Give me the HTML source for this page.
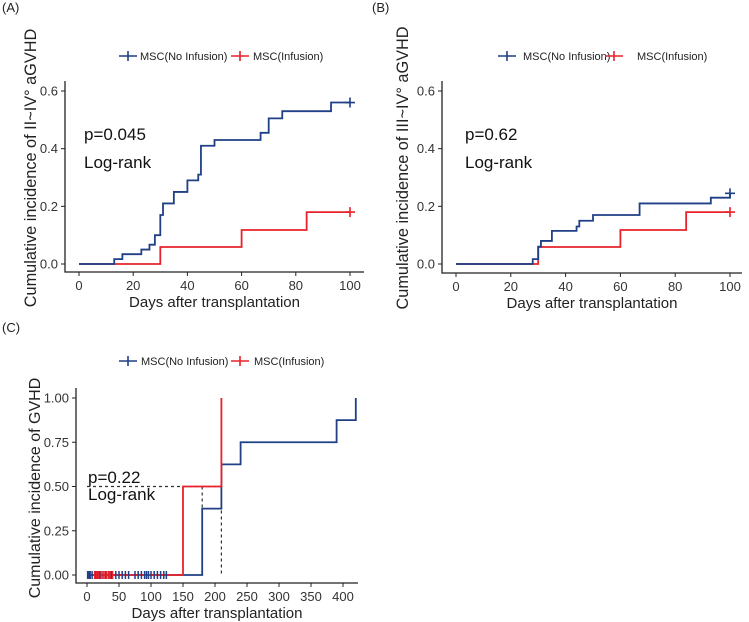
<!DOCTYPE html>
<html><head><meta charset="utf-8"><style>
body{margin:0;background:#fff;}
svg{display:block;font-family:"Liberation Sans",Arial,sans-serif;}
</style></head><body>
<svg id="fig" width="749" height="622" viewBox="0 0 749 622"></svg>
<script>
// Panel A data
const aBlueDays=[13,16,23,26,28,30,31,35,40,44,45,50,67,70,75,93];
const aBlueVals=[0.017,0.034,0.05,0.067,0.1,0.17,0.21,0.25,0.29,0.31,0.41,0.43,0.455,0.505,0.53,0.56];
const aRedDays=[30,60,84];
const aRedVals=[0.059,0.118,0.18];
// Panel B data
const bBlueDays=[28,30,31,35,44,45,50,67,93,100];
const bBlueVals=[0.017,0.06,0.08,0.115,0.13,0.15,0.17,0.21,0.23,0.245];
const bRedDays=[30,60,84];
const bRedVals=[0.059,0.118,0.18];
// Panel C data
const cBlueDays=[180,210,240,390,420];
const cBlueVals=[0.375,0.625,0.75,0.875,1.0];
const cRedDays=[150,210];
const cRedVals=[0.5,1.0];
const cBlueCensor=[1,3,5,8,14,17,20,25,30,35,38,45,50,55,60,65,75,80,85,90,93,96,100,105,110,115,120,124];
const cRedCensor=[12,15,18,22,25,28,31,34,36,40];
const abTicksX=[0,20,40,60,80,100];
const abTicksY=[0.0,0.2,0.4,0.6];
const cTicksX=[0,50,100,150,200,250,300,350,400];
const cTicksY=[0.00,0.25,0.50,0.75,1.00];

const NS="http://www.w3.org/2000/svg";
const svg=document.getElementById('fig');
function el(t,a,p){const e=document.createElementNS(NS,t);for(const k in a)e.setAttribute(k,a[k]);(p||svg).appendChild(e);return e;}
const BLUE="#1f3f86",RED="#e8222a";

function panel(o){
  const g=el('g',{});
  
  
  const sx=v=>o.x0+(v-o.xmin)/(o.xmax-o.xmin)*(o.x1-o.x0);
  const sy=v=>o.y0+(v-o.ymin)/(o.ymax-o.ymin)*(o.y1-o.y0);
  let t=el('text',{x:o.labX,y:o.labY,'font-size':13,fill:'#222'},g);t.textContent=o.label;
  
  let ax=el('path',{d:`M${o.axL},${o.axT}V${o.axB}H${o.axR}`,stroke:'#222','stroke-width':1.3,fill:'none'},g);
  
  o.ticksY.forEach(v=>{
    el('line',{x1:o.axL-4,x2:o.axL,y1:sy(v),y2:sy(v),stroke:'#222'},g);
    const tt=el('text',{x:o.axL-7,y:sy(v)+4.5,'font-size':13,'text-anchor':'end',fill:'#333'},g);
    tt.textContent=v.toFixed(o.yDec);
    
  });
  o.ticksX.forEach(v=>{
    el('line',{x1:sx(v),x2:sx(v),y1:o.axB,y2:o.axB+4,stroke:'#222'},g);
    const tt=el('text',{x:sx(v),y:o.axB+18,'font-size':13,'text-anchor':'middle',fill:'#333'},g);
    tt.textContent=v;
    
  });
  t=el('text',{x:(o.axL+o.axR)/2,y:o.axB+35,'font-size':15,'text-anchor':'middle',fill:'#222'},g);
  t.textContent='Days after transplantation';
  const cy=o.ytY;
  t=el('text',{x:0,y:0,'font-size':o.ytSize,'text-anchor':'middle',fill:'#222',transform:`translate(${o.ytX},${cy}) rotate(-90)`},g);
  t.textContent=o.ytitle;
  const lg=el('g',{},g);
  [[o.lg[0],BLUE,'MSC(No Infusion)'],[o.lg[2],RED,'MSC(Infusion)']].forEach((a,i)=>{
    el('line',{x1:a[0]-9,x2:a[0]+9,y1:o.lgY,y2:o.lgY,stroke:a[1],'stroke-width':1.6},lg);
    el('line',{x1:a[0],x2:a[0],y1:o.lgY-5,y2:o.lgY+5,stroke:a[1],'stroke-width':1.6},lg);
    const tt=el('text',{x:i==0?o.lg[1]:o.lg[3],y:o.lgY+4,'font-size':11,fill:'#222'},lg);tt.textContent=a[2];
    
  });
  t=el('text',{x:o.pX,y:o.pY,'font-size':17,fill:'#111'},g);t.textContent=o.p;
  
  t=el('text',{x:o.pX,y:o.pY+o.pGap,'font-size':17,fill:'#111'},g);t.textContent='Log-rank';
  
  return {g,sx,sy};
}
function step(P,days,vals,end,color,name,endCensor){
  let d=`M${P.sx(0)},${P.sy(0)}`;let prev=0;
  days.forEach((x,i)=>{d+=`H${P.sx(x)}V${P.sy(vals[i])}`;prev=vals[i];});
  if(end!=null) d+=`H${P.sx(end)}`;
  const p=el('path',{d,stroke:color,'stroke-width':1.8,fill:'none'},P.g);
  
  if(endCensor){
    const cx=P.sx(end),cy=P.sy(prev);
    const c=el('path',{d:`M${cx-5},${cy}H${cx+5}M${cx},${cy-5}V${cy+5}`,stroke:color,'stroke-width':1.6},P.g);
    
  }
}
const A=panel({name:'panel-a',label:'(A)',labX:2,labY:12,x0:79,x1:350,xmin:0,xmax:100,y0:264,y1:91,ymin:0,ymax:0.6,
 axL:65,axT:81,axB:272,axR:364,ticksX:abTicksX,ticksY:abTicksY,yDec:1,ytX:36,ytY:168,ytSize:16.3,
 ytitle:'Cumulative incidence of II~IV° aGVHD',lg:[128,140,240,253],lgY:56,p:'p=0.045',pX:84,pY:140,pGap:28});
step(A,aRedDays,aRedVals,100,RED,'series-msc-infusion',true);
step(A,aBlueDays,aBlueVals,100,BLUE,'series-msc-no-infusion',true);
const B=panel({name:'panel-b',label:'(B)',labX:372,labY:12,x0:456,x1:730,xmin:0,xmax:100,y0:264,y1:91,ymin:0,ymax:0.6,
 axL:442,axT:81,axB:273,axR:742,ticksX:abTicksX,ticksY:abTicksY,yDec:1,ytX:408,ytY:168,ytSize:16.3,
 ytitle:'Cumulative incidence of III~IV° aGVHD',lg:[507,523,614,637],lgY:56,p:'p=0.62',pX:465,pY:140,pGap:28});
step(B,bRedDays,bRedVals,100,RED,'series-msc-infusion',true);
step(B,bBlueDays,bBlueVals,100,BLUE,'series-msc-no-infusion',true);
const C=panel({name:'panel-c',label:'(C)',labX:2,labY:332,x0:87,x1:343,xmin:0,xmax:400,y0:575,y1:398,ymin:0,ymax:1,
 axL:76,axT:388,axB:583,axR:358,ticksX:cTicksX,ticksY:cTicksY,yDec:2,ytX:40,ytY:488,ytSize:16,
 ytitle:'Cumulative incidence of GVHD',lg:[128,141,240,254],lgY:361,p:'p=0.22',pX:88,pY:483,pGap:17});
const dl=el('path',{d:`M${C.sx(0)},${C.sy(0.5)}H${C.sx(210)}M${C.sx(180)},${C.sy(0.5)}V${C.sy(0.375)}M${C.sx(210)},${C.sy(0.5)}V${C.sy(0)}`,stroke:'#333','stroke-width':1.2,'stroke-dasharray':'3,3',fill:'none'},C.g);

step(C,cBlueDays,cBlueVals,null,BLUE,'series-msc-no-infusion',false);
step(C,cRedDays,cRedVals,null,RED,'series-msc-infusion',false);
cBlueCensor.forEach(x=>{const c=el('path',{d:`M${C.sx(x)},${C.sy(0)-4}V${C.sy(0)+4}`,stroke:BLUE,'stroke-width':1.5},C.g);
 });
cRedCensor.forEach(x=>{const c=el('path',{d:`M${C.sx(x)},${C.sy(0)-4}V${C.sy(0)+4}`,stroke:RED,'stroke-width':1.5},C.g);
 });
</script>
</body></html>
